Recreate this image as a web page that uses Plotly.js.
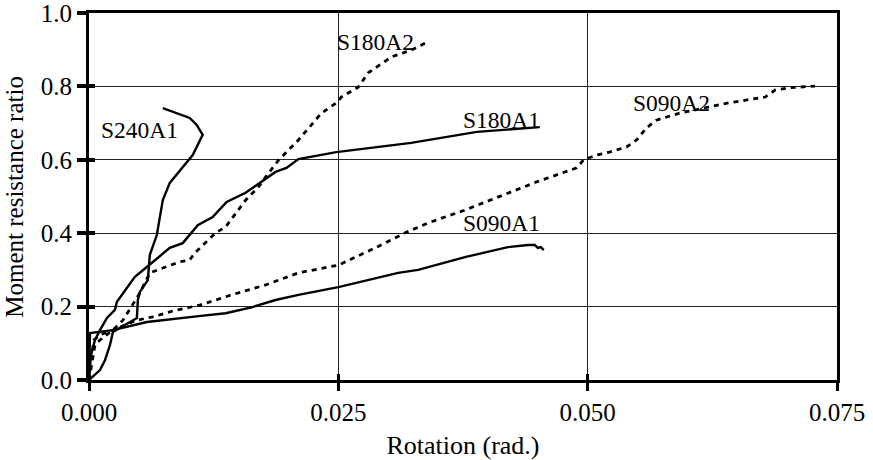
<!DOCTYPE html>
<html><head><meta charset="utf-8">
<script src="https://cdn.plot.ly/plotly-3.0.1.min.js"></script>
<style>body{margin:0;background:#fff}#c{width:873px;height:460px}</style>
</head><body><div id="c"></div>
<script>
var s240a1X = [0,0.0011,0.0016,0.0021,0.0024,0.0036,0.0048,0.0049,0.0051,0.0059,0.0061,0.0068,0.0074,0.0081,0.0096,0.0104,0.0114,0.0108,0.0101,0.0074];
var s240a1Y = [0,0.027,0.054,0.095,0.131,0.150,0.169,0.218,0.240,0.272,0.341,0.395,0.490,0.537,0.586,0.613,0.668,0.695,0.714,0.741];

var s180a1X = [0,0.0002,0.0006,0.0011,0.0018,0.0026,0.0028,0.0046,0.0058,0.0081,0.0094,0.0103,0.0109,0.0124,0.0138,0.0157,0.0173,0.0187,0.0198,0.0210,0.0248,0.0323,0.0389,0.0452];
var s180a1Y = [0,0.068,0.109,0.136,0.169,0.191,0.213,0.281,0.308,0.360,0.373,0.401,0.422,0.444,0.485,0.510,0.540,0.567,0.578,0.602,0.621,0.646,0.676,0.689];

var s180a2X = [0,0.0003,0.0006,0.0011,0.0024,0.0034,0.0051,0.0061,0.0076,0.0091,0.0101,0.0106,0.0127,0.0137,0.0157,0.0170,0.0177,0.0190,0.0210,0.0233,0.0248,0.0253,0.0270,0.0280,0.0303,0.0323,0.0337];
var s180a2Y = [0,0.054,0.095,0.109,0.136,0.163,0.237,0.292,0.308,0.322,0.327,0.346,0.401,0.417,0.490,0.526,0.553,0.599,0.654,0.727,0.755,0.771,0.798,0.837,0.880,0.899,0.918];

var s090a1X = [0,0.0001,0.0024,0.0058,0.0110,0.0137,0.0163,0.0187,0.0210,0.0250,0.0310,0.0330,0.0377,0.0420,0.0440,0.0447,0.0450,0.0453,0.0456];
var s090a1Y = [0,0.128,0.136,0.158,0.174,0.182,0.198,0.218,0.232,0.253,0.292,0.300,0.335,0.362,0.368,0.368,0.360,0.362,0.354];

var s090a2X = [0,0.0002,0.0005,0.0011,0.0024,0.0048,0.0064,0.0084,0.0111,0.0143,0.0177,0.0210,0.0250,0.0287,0.0317,0.0340,0.0377,0.0410,0.0449,0.0489,0.0496,0.0509,0.0522,0.0539,0.0549,0.0559,0.0569,0.0592,0.0608,0.0641,0.0678,0.0688,0.0701,0.0728];
var s090a2Y = [0,0.054,0.109,0.123,0.136,0.163,0.172,0.188,0.204,0.232,0.259,0.292,0.313,0.360,0.401,0.428,0.463,0.499,0.540,0.578,0.600,0.613,0.621,0.635,0.654,0.687,0.708,0.727,0.736,0.755,0.771,0.790,0.796,0.801];

var labelText = ["S240A1","S180A2","S180A1","S090A2","S090A1"];
var labelX = [0.0051,0.0287,0.0414,0.0584,0.0414];
var labelY = [0.681,0.921,0.708,0.755,0.428];

var xTicks = [0,0.025,0.05,0.075];
var xTickText = ["0.000","0.025","0.050","0.075"];
var yTicks = [0,0.2,0.4,0.6,0.8,1.0];
var yTickText = ["0.0","0.2","0.4","0.6","0.8","1.0"];
var yTitle = "Moment resistance ratio";
var xTitle = "Rotation (rad.)";

var solid = {color:"#000", width:2.4};
var dashed = {color:"#000", width:2.8, dash:"5px,5px"};
function tr(x,y,line){return {x:x,y:y,mode:"lines",line:line,showlegend:false,hoverinfo:"skip"};}
var data = [
  tr(s090a2X,s090a2Y,dashed),
  tr(s180a2X,s180a2Y,dashed),
  tr(s090a1X,s090a1Y,solid),
  tr(s180a1X,s180a1Y,solid),
  tr(s240a1X,s240a1Y,solid)
];
var fam = "Liberation Serif, Times New Roman, serif";
var tickFont = {family:fam, size:25, color:"#000"};
var xTitleFont = {family:fam, size:26, color:"#000"};
var yTitleFont = {family:fam, size:25, color:"#000"};
var labFont = {family:fam, size:23.5, color:"#000"};
var annotations = labelText.map(function(t,i){
  return {x:labelX[i], y:labelY[i], xref:"x", yref:"y", text:t, showarrow:false, font:labFont, xanchor:"center", yanchor:"middle"};
});
annotations.push({x:-0.100, y:0.5, xref:"paper", yref:"paper", text:yTitle, textangle:-90, showarrow:false,
  font:yTitleFont, xanchor:"center", yanchor:"middle"});
var layout = {
  width:873, height:460,
  margin:{l:89, r:36, t:13, b:80},
  paper_bgcolor:"#fff", plot_bgcolor:"#fff",
  font:tickFont,
  showlegend:false,
  annotations:annotations,
  xaxis:{range:[0,0.075], tickvals:xTicks, ticktext:xTickText, showgrid:true, gridcolor:"#222", gridwidth:1,
         zeroline:false, showline:true, linecolor:"#000", linewidth:3, mirror:true,
         ticks:"outside", ticklen:8, tickwidth:3, tickcolor:"#000", ticklabeloverflow:"allow",
         title:{text:xTitle, font:xTitleFont, standoff:12}, tickfont:tickFont, fixedrange:true},
  yaxis:{range:[0,1.0], tickvals:yTicks, ticktext:yTickText, showgrid:true, gridcolor:"#222", gridwidth:1,
         zeroline:false, showline:true, linecolor:"#000", linewidth:3, mirror:true,
         ticks:"outside", ticklen:9, tickwidth:4, tickcolor:"#000", ticklabeloverflow:"allow",
         tickfont:tickFont, fixedrange:true},
  xaxis2:{range:[0,0.075], overlaying:"x", tickvals:xTicks, showticklabels:false, showgrid:false, zeroline:false,
          ticks:"inside", ticklen:6, tickwidth:3, tickcolor:"#000", showline:false, fixedrange:true},
  yaxis2:{range:[0,1.0], overlaying:"y", tickvals:yTicks, showticklabels:false, showgrid:false, zeroline:false,
          ticks:"inside", ticklen:6, tickwidth:4, tickcolor:"#000", showline:false, fixedrange:true}
};
data.push({x:[0],y:[0],xaxis:"x2",yaxis:"y2",mode:"markers",marker:{opacity:0},showlegend:false,hoverinfo:"skip"});
Plotly.newPlot("c", data, layout, {staticPlot:true, displayModeBar:false});
</script></body></html>
